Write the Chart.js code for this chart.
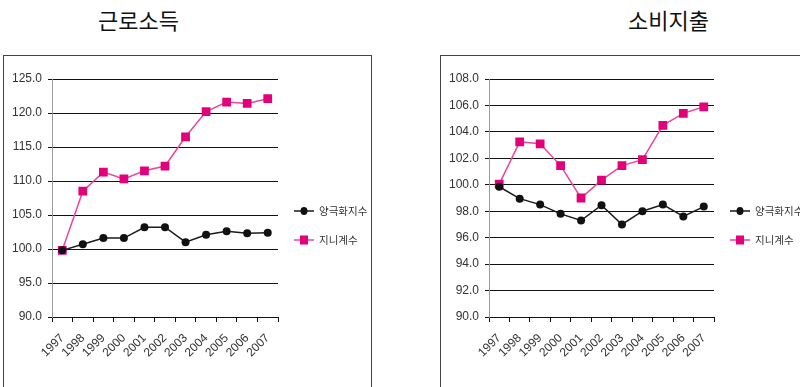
<!DOCTYPE html>
<html lang="ko">
<head>
<meta charset="utf-8">
<title>근로소득 · 소비지출</title>
<script src="https://cdn.jsdelivr.net/npm/chart.js@4/dist/chart.umd.min.js"></script>
<style>
  html, body { margin: 0; padding: 0; background: #fff; }
  body { width: 800px; height: 387px; position: relative; overflow: hidden; }
  .title {
    position: absolute; top: 3px; font-family: "Noto Sans CJK KR", sans-serif;
    font-size: 22px; font-weight: 400; color: #111; letter-spacing: 0px;
  }
  .panel {
    position: absolute; top: 55px; height: 340px;
    border: 1px solid #444; border-bottom: none; box-sizing: border-box;
  }
  .panel canvas { position: absolute; left: 0; top: 0; }
</style>
</head>
<body>
<div class="title" style="left:98px;">근로소득</div>
<div class="title" style="left:628px;">소비지출</div>
<div class="panel" id="p1" style="left:3px; width:369px;"><canvas id="c1"></canvas></div>
<div class="panel" id="p2" style="left:440px; width:370px; border-right:none;"><canvas id="c2"></canvas></div>
<script>
// 연도
const years = ['1997','1998','1999','2000','2001','2002','2003','2004','2005','2006','2007'];
const seriesNames = ['양극화지수', '지니계수'];

// 근로소득 (1997=100)
const incomePolar = [99.8, 100.7, 101.6, 101.6, 103.2, 103.2, 101.0, 102.1, 102.6, 102.3, 102.4];
const incomeGini  = [99.8, 108.5, 111.3, 110.3, 111.5, 112.2, 116.5, 120.2, 121.6, 121.4, 122.1];
const incomeAxis  = { min: 90, max: 125, step: 5 };

// 소비지출 (1997=100)
const spendPolar = [99.85, 98.95, 98.5, 97.8, 97.3, 98.45, 97.0, 98.0, 98.5, 97.6, 98.35];
const spendGini  = [100.05, 103.25, 103.1, 101.45, 99.0, 100.35, 101.45, 101.9, 104.5, 105.4, 105.9];
const spendAxis  = { min: 90, max: 108, step: 2 };

const TICK_FONT = { family: '"Liberation Sans Narrow", "Liberation Sans", sans-serif', size: 12 };
const LEGEND_FONT = '10.5px "Noto Sans CJK KR", sans-serif';

// 오른쪽 범례: 선 + 마커
const sideLegend = {
  id: 'sideLegend',
  afterDraw(chart) {
    const { ctx, chartArea } = chart;
    const x0 = chartArea.right + 16;
    const rows = [chartArea.top + 132, chartArea.top + 161];
    chart.data.datasets.forEach((ds, i) => {
      const y = rows[i];
      ctx.save();
      ctx.strokeStyle = ds.borderColor;
      ctx.lineWidth = 1.5;
      ctx.beginPath();
      ctx.moveTo(x0, y);
      ctx.lineTo(x0 + 20, y);
      ctx.stroke();
      ctx.fillStyle = ds.pointBackgroundColor;
      if (ds.pointStyle === 'rect') {
        ctx.fillRect(x0 + 10 - 4, y - 4.5, 8, 9);
      } else {
        ctx.beginPath();
        ctx.ellipse(x0 + 10, y, 3.5, 4, 0, 0, Math.PI * 2);
        ctx.fill();
      }
      ctx.fillStyle = '#333';
      ctx.font = LEGEND_FONT;
      ctx.textBaseline = 'middle';
      ctx.textAlign = 'left';
      ctx.fillText(ds.label, x0 + 25, y);
      ctx.restore();
    });
  }
};

function makeChart(canvasId, polar, gini, axis, w, h, rightPad) {
  const canvas = document.getElementById(canvasId);
  canvas.width = w; canvas.height = h;
  canvas.style.width = w + 'px'; canvas.style.height = h + 'px';
  return new Chart(canvas, {
    type: 'line',
    data: {
      labels: years,
      datasets: [
        {
          label: seriesNames[0], data: polar,
          borderColor: '#1a1a1a', borderWidth: 1.5,
          pointStyle: 'circle', pointRadius: 4,
          pointBackgroundColor: '#111', pointBorderColor: '#111', pointBorderWidth: 0,
          tension: 0
        },
        {
          label: seriesNames[1], data: gini,
          borderColor: '#e9479b', borderWidth: 1.5,
          pointStyle: 'rect', pointRadius: 6.2,
          pointBackgroundColor: '#e2007b', pointBorderColor: '#e2007b', pointBorderWidth: 0,
          tension: 0
        }
      ]
    },
    options: {
      responsive: false,
      animation: false,
      devicePixelRatio: 1,
      layout: { padding: { top: 23, right: rightPad, left: 0, bottom: 0 } },
      plugins: { legend: { display: false }, tooltip: { enabled: false }, title: { display: false } },
      scales: {
        x: {
          type: 'category',
          offset: true,
          grid: { display: true, drawOnChartArea: false, drawTicks: true, tickLength: 5, color: '#111', offset: true },
          border: { display: true, color: '#111', width: 1 },
          ticks: { font: TICK_FONT, color: '#333', minRotation: 45, maxRotation: 45, padding: 9, autoSkip: false },
          afterFit(s) { s.height = 71; }
        },
        y: {
          min: axis.min, max: axis.max,
          grid: { color: '#111', lineWidth: 1, drawTicks: true, tickLength: 4 },
          border: { display: true, color: '#999', width: 1 },
          ticks: {
            stepSize: axis.step, font: TICK_FONT, color: '#333', padding: 6,
            callback: v => Number(v).toFixed(1)
          },
          afterFit(s) { s.width = 48; }
        }
      }
    },
    plugins: [sideLegend]
  });
}

makeChart('c1', incomePolar, incomeGini, incomeAxis, 367, 332, 93);
makeChart('c2', spendPolar, spendGini, spendAxis, 369, 332, 96);
</script>
</body>
</html>
